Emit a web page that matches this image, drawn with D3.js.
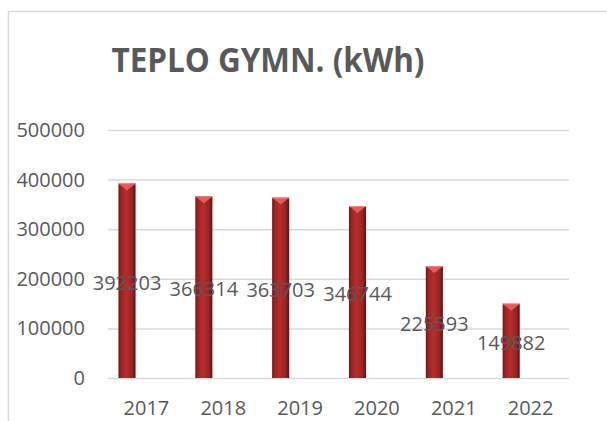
<!DOCTYPE html>
<html>
<head>
<meta charset="utf-8">
<script src="https://cdn.jsdelivr.net/npm/d3@7"></script>
<style>
  body { margin: 0; background: #fff; }
  svg { display: block; }
</style>
</head>
<body>
<div id="chart"></div>
<script>
const years = ['2017', '2018', '2019', '2020', '2021', '2022'];
const heat = [392203, 366314, 363703, 346744, 225593, 149882];
const yTicks = [0, 100000, 200000, 300000, 400000, 500000];
const title = 'TEPLO GYMN. (kWh)';

const width = 607;
const height = 421;
const margin = { top: 130, right: 38, bottom: 43, left: 108 };
const textColor = '#595959';
const font = '"Open Sans", Lato, sans-serif';

const svg = d3.select('#chart').append('svg')
  .attr('width', width)
  .attr('height', height);

// chart frame (runs off the right and bottom edge)
svg.append('path')
  .attr('d', `M8.5,${height + 2}V11.5H${width + 2}`)
  .attr('fill', 'none')
  .attr('stroke', '#d9d9d9')
  .attr('stroke-width', 1.5);

const defs = svg.append('defs');
const grad = defs.append('linearGradient')
  .attr('id', 'barGrad')
  .attr('x1', '0%').attr('x2', '100%')
  .attr('y1', '0%').attr('y2', '0%');
grad.append('stop').attr('offset', '0%').attr('stop-color', '#6e1414');
grad.append('stop').attr('offset', '15%').attr('stop-color', '#9c2424');
grad.append('stop').attr('offset', '45%').attr('stop-color', '#b42f2d');
grad.append('stop').attr('offset', '80%').attr('stop-color', '#9a2322');
grad.append('stop').attr('offset', '100%').attr('stop-color', '#5e1010');

const x = d3.scaleBand()
  .domain(years)
  .range([margin.left, width - margin.right]);

// Excel-style cluster slot: the single series sits in the left half
const slot = d3.scaleBand()
  .domain(['kWh', 'empty'])
  .range([0, x.bandwidth()])
  .paddingInner(0.56)
  .paddingOuter(0.27);

const y = d3.scaleLinear()
  .domain([0, 500000])
  .range([height - margin.bottom, margin.top]);

svg.append('text')
  .attr('x', 268)
  .attr('y', 72)
  .attr('text-anchor', 'middle')
  .attr('textLength', 313)
  .attr('lengthAdjust', 'spacingAndGlyphs')
  .style('font-family', font)
  .style('font-weight', 'bold')
  .style('font-size', '34px')
  .style('fill', textColor)
  .text(title);

const yAxis = svg.append('g')
  .attr('transform', `translate(${margin.left},0)`)
  .call(d3.axisLeft(y).tickValues(yTicks).tickFormat(d3.format('d'))
    .tickSize(-(width - margin.left - margin.right)).tickPadding(23));
yAxis.select('.domain').remove();
yAxis.selectAll('.tick line')
  .attr('stroke', '#d9d9d9')
  .attr('stroke-width', 1.5);
yAxis.selectAll('.tick text')
  .style('font-family', font)
  .style('font-size', '20px')
  .style('fill', textColor);

const xAxis = svg.append('g')
  .attr('transform', `translate(0,${height - margin.bottom})`)
  .call(d3.axisBottom(x).tickSize(0).tickPadding(23));
xAxis.select('.domain').remove();
xAxis.selectAll('.tick text')
  .style('font-family', font)
  .style('font-size', '20px')
  .style('fill', textColor);

const bars = svg.append('g')
  .selectAll('g')
  .data(years.map((yr, i) => ({ year: yr, value: heat[i] })))
  .join('g')
  .attr('transform', d => `translate(${x(d.year) + slot('kWh')},0)`);

const bw = slot.bandwidth();

bars.append('rect')
  .attr('x', 0)
  .attr('y', d => y(d.value))
  .attr('width', bw)
  .attr('height', d => y(0) - y(d.value))
  .attr('fill', 'url(#barGrad)');

// bevel highlight on the top of each bar
bars.append('path')
  .attr('d', d => `M1,${y(d.value) + 1}H${bw - 1}L${bw / 2},${y(d.value) + 7}Z`)
  .attr('fill', '#e25c5a');

bars.append('line')
  .attr('x1', 0).attr('x2', bw)
  .attr('y1', d => y(d.value) + 0.5)
  .attr('y2', d => y(d.value) + 0.5)
  .attr('stroke', '#f08a86')
  .attr('stroke-width', 1);

bars.append('text')
  .attr('x', bw / 2)
  .attr('y', d => (y(d.value) + y(0)) / 2 + 9)
  .attr('text-anchor', 'middle')
  .style('font-family', font)
  .style('font-size', '20px')
  .style('fill', textColor)
  .text(d => d.value);
</script>
</body>
</html>
